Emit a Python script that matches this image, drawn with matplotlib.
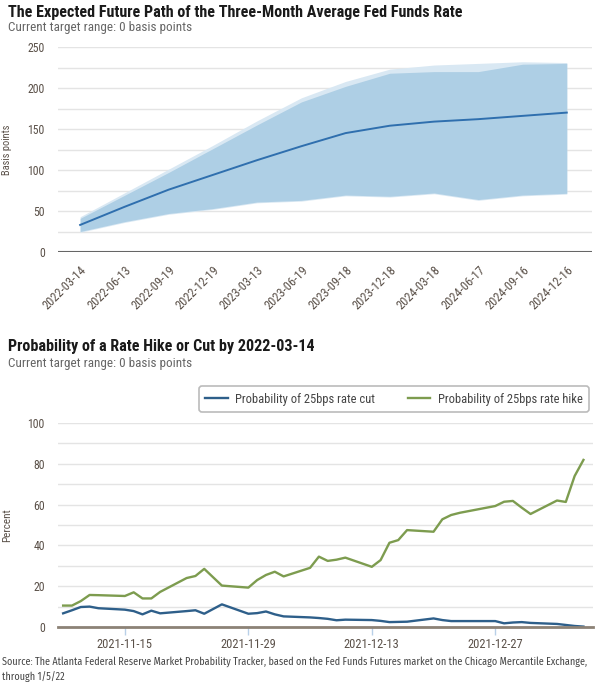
import numpy as np
import pandas as pd
import matplotlib
matplotlib.use("Agg")
import matplotlib.pyplot as plt
import matplotlib.dates as mdates

# Top chart: expected path of the three-month average fed funds rate
meeting_dates = ["2022-03-14", "2022-06-13", "2022-09-19", "2022-12-19",
                 "2023-03-13", "2023-06-19", "2023-09-18", "2023-12-18",
                 "2024-03-18", "2024-06-17", "2024-09-16", "2024-12-16"]
expected_rate = [33, 55, 76, 94, 112, 129, 145, 154, 159, 162, 166, 170]
inner_low = [25, 37, 47, 53, 61, 63, 69.5, 68, 72, 64, 69.5, 71.6]
inner_high = [41, 69, 97, 126, 155, 183, 202, 218, 220, 220, 229, 230]
outer_low = [24, 36, 46, 52, 60, 62, 68.5, 67, 71, 63, 68.5, 70.6]
outer_high = [43, 72, 101, 130, 160, 188, 208, 223, 228, 230, 232, 231]

# Bottom chart: probability of a hike / cut by 2022-03-14
obs_dates = ["2021-11-08", "2021-11-09", "2021-11-10", "2021-11-11", "2021-11-12",
             "2021-11-15", "2021-11-16", "2021-11-17", "2021-11-18", "2021-11-19",
             "2021-11-22", "2021-11-23", "2021-11-24", "2021-11-26",
             "2021-11-29", "2021-11-30", "2021-12-01", "2021-12-02", "2021-12-03",
             "2021-12-06", "2021-12-07", "2021-12-08", "2021-12-09", "2021-12-10",
             "2021-12-13", "2021-12-14", "2021-12-15", "2021-12-16", "2021-12-17",
             "2021-12-20", "2021-12-21", "2021-12-22", "2021-12-23",
             "2021-12-27", "2021-12-28", "2021-12-29", "2021-12-30", "2021-12-31",
             "2022-01-03", "2022-01-04", "2022-01-05", "2022-01-06"]
prob_cut = [6.7, 8.2, 9.8, 10.0, 9.2,
            8.5, 7.8, 6.2, 8.0, 6.7,
            7.8, 8.2, 6.5, 11.1,
            6.5, 6.8, 7.6, 6.2, 5.2,
            4.7, 4.4, 4.0, 3.3, 3.6,
            3.4, 3.0, 2.4, 2.5, 2.6,
            4.2, 3.4, 2.9, 2.9,
            2.9, 1.8, 2.2, 2.4, 2.0,
            1.5, 1.0, 0.5, 0.2]
prob_hike = [10.5, 10.5, 12.7, 15.7, 15.6,
             15.2, 17.0, 14.0, 14.0, 17.2,
             24.0, 25.0, 28.5, 20.3,
             19.3, 23.0, 25.5, 27.1, 24.8,
             29.0, 34.5, 32.4, 33.0, 34.0,
             29.5, 32.8, 41.3, 42.6, 47.5,
             46.7, 52.8, 54.9, 56.0,
             59.3, 61.4, 61.8, 58.5, 55.4,
             62.0, 61.3, 74.0, 81.9]
prob_ticks = ["2021-11-15", "2021-11-29", "2021-12-13", "2021-12-27"]

source_text = ("Source: The Atlanta Federal Reserve Market Probability Tracker, based on the Fed Funds "
               "Futures market on the Chicago Mercantile Exchange,\nthrough 1/5/22")

W, H = 596, 686
fig = plt.figure(figsize=(W / 100, H / 100), dpi=100)

narrow = "Roboto Condensed"
label_col = "#5a5048"
sub_col = "#666666"
grid_col = "#e4e4e4"


def fx(px):
    return px / W


def fy(py):
    return 1 - py / H


# ---- top chart ----
ax1 = fig.add_axes([fx(58), fy(252), fx(592) - fx(58), fy(47) - fy(252)])
x = np.arange(len(meeting_dates))
ax1.fill_between(x, outer_low, outer_high, color="#d9e8f3", lw=0)
ax1.fill_between(x, inner_low, inner_high, color="#aecfe5", lw=0)
ax1.plot(x, expected_rate, color="#2f6fae", lw=1.4)
ax1.set_xlim(-0.5, 11.57)
ax1.set_ylim(0, 250)
ax1.set_yticks(np.arange(0, 251, 25), minor=True)
ax1.set_yticks(np.arange(0, 251, 50))
ax1.grid(True, which="both", axis="y", color=grid_col, lw=1)
ax1.set_axisbelow(True)
ax1.axhline(0, color="#666666", lw=1.5, zorder=1)
for s in ax1.spines.values():
    s.set_visible(False)
ax1.set_xticks(x)
ax1.set_xticklabels(meeting_dates, rotation=45, ha="right", rotation_mode="anchor",
                    fontsize=9, color=label_col, family=narrow)
ax1.tick_params(axis="x", length=0, pad=8)
ax1.tick_params(axis="y", which="both", length=0, pad=9.5, labelsize=8.5, labelcolor=label_col)
for lab in ax1.get_yticklabels():
    lab.set_family(narrow)
ax1.set_ylabel("Basis points", fontsize=7.5, color=label_col, family=narrow)
ax1.yaxis.set_label_coords((12 - 58) / 534, 0.5)

fig.text(fx(8), fy(13), "The Expected Future Path of the Three-Month Average Fed Funds Rate",
         fontsize=11.6, fontweight="bold", family=narrow, color="#1a1a1a", va="center")
fig.text(fx(8), fy(28), "Current target range: 0 basis points",
         fontsize=9.5, family=narrow, color=sub_col, va="center")

# ---- bottom chart ----
ax2 = fig.add_axes([fx(58), fy(627), fx(593) - fx(58), fy(423) - fy(627)])
d = pd.to_datetime(obs_dates)
l1, = ax2.plot(d, prob_cut, color="#2e5f8a", lw=1.7, label="Probability of 25bps rate cut")
l2, = ax2.plot(d, prob_hike, color="#7d9c4f", lw=1.7, label="Probability of 25bps rate hike")
ax2.set_ylim(0, 100)
ax2.set_xlim(pd.Timestamp("2021-11-07 10:00"), pd.Timestamp("2022-01-07 02:00"))
ax2.set_yticks(np.arange(0, 101, 10), minor=True)
ax2.set_yticks(np.arange(0, 101, 20))
ax2.grid(True, which="both", axis="y", color=grid_col, lw=1)
ax2.set_axisbelow(True)
for s in ax2.spines.values():
    s.set_visible(False)
ax2.axhline(0, color="#8c8276", lw=2, zorder=3, clip_on=False)
ax2.set_xticks(pd.to_datetime(prob_ticks))
ax2.xaxis.set_major_formatter(mdates.DateFormatter("%Y-%m-%d"))
ax2.tick_params(axis="x", length=6, width=1, color="#b8d0e8", pad=2,
                labelsize=9, labelcolor=label_col)
ax2.tick_params(axis="y", which="both", length=0, pad=9.5, labelsize=8.5, labelcolor=label_col)
for lab in ax2.get_xticklabels() + ax2.get_yticklabels():
    lab.set_family(narrow)
ax2.set_ylabel("Percent", fontsize=8, color=label_col, family=narrow)
ax2.yaxis.set_label_coords((12 - 58) / 535, 0.5)

leg = fig.legend(handles=[l1, l2], loc="center", ncol=2,
                 bbox_to_anchor=(fx(394), fy(399)), frameon=True, fancybox=True,
                 prop={"family": narrow, "size": 9}, handlelength=1.8, handletextpad=0.6,
                 columnspacing=2.6, borderpad=0.5, edgecolor="#aaaaaa")
leg.get_frame().set_linewidth(1.2)
for t in leg.get_texts():
    t.set_color("#444444")

fig.text(fx(8), fy(347), "Probability of a Rate Hike or Cut by 2022-03-14",
         fontsize=11.6, fontweight="bold", family=narrow, color="#1a1a1a", va="center")
fig.text(fx(8), fy(364), "Current target range: 0 basis points",
         fontsize=9.5, family=narrow, color=sub_col, va="center")

fig.text(fx(2), fy(656), source_text, fontsize=7.25, family="Fira Sans Condensed",
         color="#444444", va="top", linespacing=1.45)

fig.savefig("out.png", dpi=100)
